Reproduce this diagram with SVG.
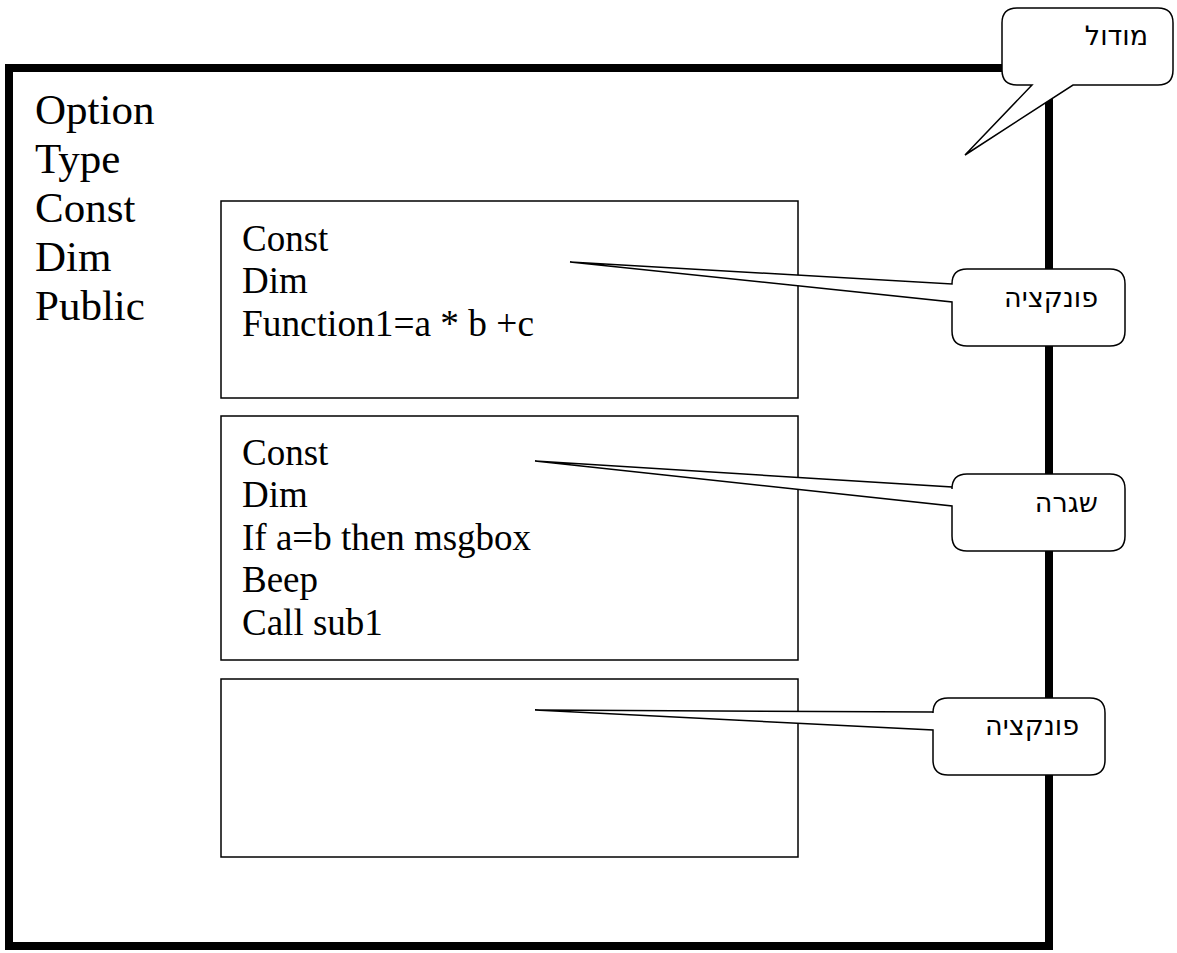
<svg xmlns="http://www.w3.org/2000/svg" width="1177" height="953" viewBox="0 0 1177 953">
<style>
.frame{fill:none;stroke:#000;stroke-width:8}
.box{fill:none;stroke:#000;stroke-width:1.5}
.callout{fill:#fff;stroke:#000;stroke-width:1.5;stroke-linejoin:miter}
.big{font-family:"Liberation Serif","Times New Roman",serif;font-size:43px;fill:#000}
.code{font-family:"Liberation Serif","Times New Roman",serif;font-size:37px;fill:#000}
.heb{font-family:"DejaVu Sans","Liberation Sans",sans-serif;font-size:27px;fill:#000;text-anchor:end}
</style>
<rect width="1177" height="953" fill="#fff"/>
<g id="module">
<rect class="frame" x="9" y="68" width="1040" height="878"/>
<text class="big" x="35" y="124">Option</text>
<text class="big" x="35" y="173">Type</text>
<text class="big" x="35" y="222">Const</text>
<text class="big" x="35" y="271">Dim</text>
<text class="big" x="35" y="320">Public</text>
</g>
<g id="function1">
<rect class="box" x="221" y="201" width="577" height="197"/>
<text class="code" x="242" y="251">Const</text>
<text class="code" x="242" y="293">Dim</text>
<text class="code" x="242" y="336" textLength="292" lengthAdjust="spacingAndGlyphs">Function1=a * b +c</text>
</g>
<g id="sub">
<rect class="box" x="221" y="416" width="577" height="244"/>
<text class="code" x="242" y="465">Const</text>
<text class="code" x="242" y="507">Dim</text>
<text class="code" x="242" y="550">If a=b then msgbox</text>
<text class="code" x="242" y="592">Beep</text>
<text class="code" x="242" y="635">Call sub1</text>
</g>
<g id="function2">
<rect class="box" x="221" y="679" width="577" height="178"/>
</g>
<g id="connectors">
<path id="callout-module" class="callout" d="M1017,8 H1158 Q1173,8 1173,23 V70 Q1173,85 1158,85 H1073 L965,155 L1032,85 H1017 Q1002,85 1002,70 V23 Q1002,8 1017,8 Z"/>
<path id="callout-func1" class="callout" d="M967,269 H1110 Q1125,269 1125,284 V331 Q1125,346 1110,346 H967 Q952,346 952,331 V302 L570,262 L952,284 Q952,269 967,269 Z"/>
<path id="callout-sub" class="callout" d="M967,474 H1110 Q1125,474 1125,489 V536 Q1125,551 1110,551 H967 Q952,551 952,536 V506 L535,461 L952,487 V489 Q952,474 967,474 Z"/>
<path id="callout-func2" class="callout" d="M948,698 H1090 Q1105,698 1105,713 V760 Q1105,775 1090,775 H948 Q933,775 933,760 V730 L535,710 L933,712 V713 Q933,698 948,698 Z"/>
</g>
<g id="callout-labels">
<text class="heb" x="1148" y="45">מודול</text>
<text class="heb" x="1098" y="307">פונקציה</text>
<text class="heb" x="1098" y="512">שגרה</text>
<text class="heb" x="1079" y="735">פונקציה</text>
</g>
</svg>
